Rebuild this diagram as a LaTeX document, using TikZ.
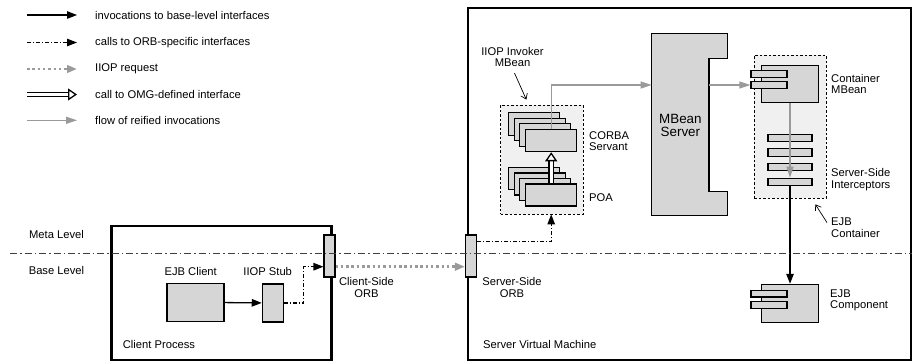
\documentclass[tikz,border=0pt]{standalone}
\usepackage{fontspec}
\setmainfont{Liberation Sans}
\usetikzlibrary{arrows.meta}
\usetikzlibrary{positioning}

\definecolor{boxgray}{HTML}{D6D6D6}
\definecolor{groupgray}{HTML}{F0F0F0}
\definecolor{flowgray}{HTML}{9A9A9A}
\definecolor{levelgray}{HTML}{404040}

\begin{document}
\begin{tikzpicture}[
    x=1pt, y=-1pt,
    every node/.style={font=\fontsize{11.2pt}{11.6pt}\selectfont, inner sep=0pt},
    box/.style={draw, fill=boxgray, line width=1.1pt},
    group/.style={draw, fill=groupgray, line width=0.7pt, dash pattern=on 2.5pt off 2pt},
    frame/.style={draw, line width=2.6pt},
    orb/.style={box, minimum width=11pt, minimum height=42pt},
    port/.style={box, minimum width=36pt, minimum height=6.6pt},
    bar/.style={box, minimum width=44pt, minimum height=7.5pt},
    call/.style={line width=1.3pt, -{Triangle[length=10pt, width=7.5pt]}},
    orbcall/.style={call, line width=1.1pt, dash pattern=on 4pt off 2pt on 1pt off 2pt},
    iiop/.style={flowgray, line width=2.5pt, dash pattern=on 2.5pt off 2.8pt,
                 -{Triangle[length=10pt, width=7.5pt]}},
    omgcall/.style={double=white, double distance=3pt, line width=1.3pt,
                    -{Triangle[fill=white, length=9pt, width=12pt]}},
    reified/.style={flowgray, line width=1.2pt, -{Triangle[length=11pt, width=7pt]}},
    note/.style={line width=0.7pt, -{Straight Barb[length=5pt, width=7pt]}},
    level/.style={levelgray, line width=1pt, dash pattern=on 7pt off 3pt on 1.5pt off 3pt}
]
\useasboundingbox (0,0) rectangle (915,362);

% --- Legend ---
\node[anchor=west] (lg1) at (95,15) {invocations to base-level interfaces};
\node[anchor=west] (lg2) at (95,42.5) {calls to ORB-specific interfaces};
\node[anchor=west] (lg3) at (95,69) {IIOP request};
\node[anchor=west] (lg4) at (95,94.5) {call to OMG-defined interface};
\node[anchor=west] (lg5) at (95,120.3) {flow of reified invocations};
\foreach \i in {1,...,5}
    \coordinate (lgs\i) at (lg\i.west -| 27,0);
\draw[call] (lgs1) -- ([xshift=-18pt]lg1.west);
\draw[orbcall] (lgs2) -- ([xshift=-18pt]lg2.west);
\draw[iiop] (lgs3) -- ([xshift=-18pt]lg3.west);
\draw[omgcall] (lgs4) -- ([xshift=-18pt]lg4.west);
\draw[reified] (lgs5) -- ([xshift=-18pt]lg5.west);

% --- Process frames ---
\node[frame, minimum width=220pt, minimum height=134pt] (cproc) at (221.7,293) {};
\node[frame, minimum width=443pt, minimum height=352pt] (svm) at (689.5,184) {};
\node[anchor=west] (cproclbl) at (122.7,344) {Client Process};
\node[anchor=west] (svmlbl) at (483,344) {Server Virtual Machine};

% --- Client side ---
\node[box, minimum width=57pt, minimum height=38pt] (client) at (195.5,302.3) {};
\node (clientlbl) at (190.7,271.7) {EJB Client};
\node[box, minimum width=21pt, minimum height=38pt] (stub) at (272.8,303) {};
\node (stublbl) at (267.7,271.7) {IIOP Stub};
\draw[call] (client) -- (stub);

% --- ORBs ---
\node[orb] (corb) at (329.5,256) {};
\node[orb] (sorb) at (471,256) {};
\node[align=center] (corblbl) at (366.5,287.5) {Client-Side\\ORB};
\node[align=center] (sorblbl) at (512,287.5) {Server-Side\\ORB};
\draw[orbcall] (stub.east) -- ++(20,0) |- ([yshift=-10.7pt]corb.west);
\draw[iiop] ([yshift=-10.7pt]corb.east) -- ([yshift=-10.7pt]sorb.west);

% --- IIOP Invoker MBean ---
\node[group, minimum width=82.6pt, minimum height=109pt] (invoker) at (542,159.5) {};
\node[align=center] (invlbl) at (512.5,57) {IIOP Invoker\\MBean};
\draw[note] ([shift={(2pt,-6pt)}]invlbl.south) -- ([shift={(26pt,5pt)}]invoker.north west);
\foreach \k in {3,2,1}
    \node[box, minimum width=51pt, minimum height=22.4pt] (srv\k) at ({551.2-5.8*\k},{140.5-5.5*\k}) {};
\node[box, minimum width=51pt, minimum height=22.4pt] (servant) at (551.2,140.5) {};
\foreach \k in {3,2,1}
    \node[box, minimum width=51pt, minimum height=22pt] (poa\k) at ({551.2-5.8*\k},{195-5.5*\k}) {};
\node[box, minimum width=51pt, minimum height=22pt] (poa) at (551.2,195) {};
\node[anchor=west, align=left] (servantlbl) at (589,141) {CORBA\\Servant};
\node[anchor=west] (poalbl) at (589,198) {POA};
\draw[omgcall] (poa.north) -- (servant.south);
\draw[orbcall] ([yshift=-7pt]sorb.north east) -| (poa.south |- invoker.south);

% --- MBean Server ---
\draw[box] (651.7,33.3) -- (727.3,33.3) -- (727.3,58.3) -- (709,58.3) -- (709,191.7)
    -- (727.3,191.7) -- (727.3,215.7) -- (651.7,215.7) -- cycle;
\node[align=center, font=\fontsize{13.4pt}{13.3pt}\selectfont] (mbs) at (680.4,125.7) {MBean\\Server};
\coordinate (mbsin) at (651.7,85);
\coordinate (mbsout) at (709,85);
\draw[reified] (servant.north) |- (mbsin);

% --- EJB Container ---
\node[group, minimum width=72pt, minimum height=143pt] (contgrp) at (790,126.5) {};
\node[box, minimum width=56.6pt, minimum height=37.7pt] (cmb) at (790,83.9) {};
\node[port] (cmbp1) at (769,74) {};
\node[port] (cmbp2) at (769,85) {};
\node[anchor=west, align=left] (cmblbl) at (831,84) {Container\\MBean};
\node[bar] (ic1) at (790,138) {};
\node[bar] (ic2) at (790,152.5) {};
\node[bar] (ic3) at (790,167) {};
\node[bar] (ic4) at (790,182) {};
\node[anchor=west, align=left] (iclbl) at (831,179.5) {Server-Side\\Interceptors};
\node[anchor=west, align=left] (contlbl) at (831,227.5) {EJB\\Container};
\draw[note] ([shift={(-4pt,-5pt)}]contlbl.north west) -- ([shift={(-11pt,-6pt)}]contgrp.south east);
\draw[reified] (mbsout) -- (cmbp2.west);
\draw[reified] (cmb.south) -- (ic4.north);

% --- EJB Component ---
\node[box, minimum width=56.6pt, minimum height=38pt] (ejb) at (790,303.3) {};
\node[port] (ejbp1) at (769,293.7) {};
\node[port] (ejbp2) at (769,305) {};
\node[anchor=west, align=left] (ejblbl) at (830,300.5) {EJB\\Component};
\draw[call] (ic4.south) -- (ejb.north);

% --- Meta / base level ---
\coordinate (lvl) at (10,253.5);
\draw[level] (lvl) -- (svm.east |- lvl);
\node (metalbl) at (56.5,234) {Meta Level};
\node (baselbl) at (56.5,270.5) {Base Level};

\end{tikzpicture}
\end{document}
